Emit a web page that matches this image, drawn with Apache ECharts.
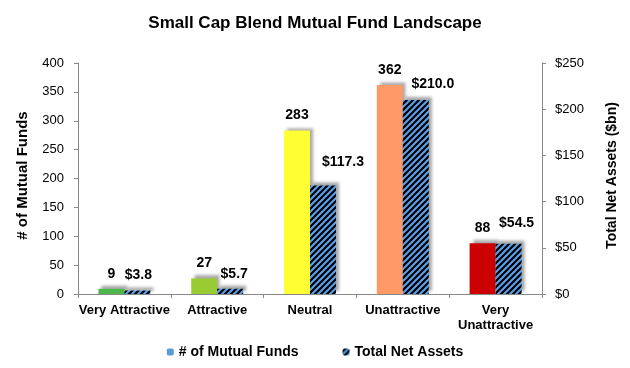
<!DOCTYPE html>
<html><head><meta charset="utf-8">
<script src="https://cdn.jsdelivr.net/npm/echarts@6/dist/echarts.min.js"></script>
<style>html,body{margin:0;padding:0;background:#fff}#c{width:630px;height:368px}</style>
</head><body><div id="c"></div>
<script>
var categories = ['Very Attractive', 'Attractive', 'Neutral', 'Unattractive', 'Very\nUnattractive'];
var fundCounts = [9, 27, 283, 362, 88];
var netAssets = [3.8, 5.7, 117.3, 210.0, 54.5];
var leftTicks = [0, 50, 100, 150, 200, 250, 300, 350, 400];
var rightTicks = [0, 50, 100, 150, 200, 250];
var barColors = ['#4cb84c', '#99cc33', '#ffff33', '#ff9966', '#cc0000'];
// label nudges (style only) for the asset labels, as placed in the original
var assetLabelNudge = [[1, 0], [4, 0], [20, -8], [17, -1], [8, -6]];

function makePattern() {
  var s = 6;
  var cv = document.createElement('canvas');
  cv.width = s; cv.height = s;
  var g = cv.getContext('2d');
  g.fillStyle = '#000';
  g.fillRect(0, 0, s, s);
  g.strokeStyle = '#5ba3f0';
  g.lineWidth = 2;
  g.beginPath();
  g.moveTo(-1, s + 1); g.lineTo(s + 1, -1);
  g.moveTo(-1, 1); g.lineTo(1, -1);
  g.moveTo(s - 1, s + 1); g.lineTo(s + 1, s - 1);
  g.stroke();
  return cv;
}
var pat = { image: makePattern(), repeat: 'repeat' };
var font = 'Liberation Sans, Arial, sans-serif';
var shadow = { shadowColor: 'rgba(0,0,0,0.35)', shadowBlur: 3, shadowOffsetX: 3, shadowOffsetY: -3 };

var chart = echarts.init(document.getElementById('c'), null, { renderer: 'canvas' });
chart.setOption({
  animation: false,
  textStyle: { fontFamily: font },
  title: {
    text: 'Small Cap Blend Mutual Fund Landscape',
    left: 'center', top: 10,
    textStyle: { fontFamily: font, fontSize: 17, fontWeight: 'bold', color: '#000' }
  },
  legend: {
    bottom: 4, left: 'center', itemGap: 44, itemWidth: 7, itemHeight: 7,
    textStyle: { fontFamily: font, fontSize: 14, fontWeight: 'bold', color: '#000' },
    data: [
      { name: '# of Mutual Funds', itemStyle: { color: '#5b9bd5' } },
      { name: 'Total Net Assets', itemStyle: { color: pat } }
    ]
  },
  grid: { left: 78, right: 88, top: 63, bottom: 74 },
  xAxis: {
    type: 'category', data: categories,
    axisLine: { lineStyle: { color: '#888' } },
    axisTick: { show: true, length: 4, lineStyle: { color: '#888' } },
    axisLabel: { color: '#000', fontFamily: font, fontSize: 13, fontWeight: 'bold', margin: 9, interval: 0, lineHeight: 15 }
  },
  yAxis: [
    {
      type: 'value', min: 0, max: 400, interval: 50,
      name: '# of Mutual Funds', nameLocation: 'middle', nameGap: 48,
      nameTextStyle: { fontFamily: font, fontSize: 15, fontWeight: 'bold', color: '#000', padding: [0, 0, 0, 6] },
      axisLine: { show: true, lineStyle: { color: '#888' } },
      axisTick: { show: true, length: 4, lineStyle: { color: '#888' } },
      splitLine: { show: false },
      axisLabel: { color: '#000', fontFamily: font, fontSize: 13, margin: 14 }
    },
    {
      type: 'value', min: 0, max: 250, interval: 50,
      name: 'Total Net Assets ($bn)', nameLocation: 'middle', nameGap: 63, nameRotate: 90,
      nameTextStyle: { fontFamily: font, fontSize: 14, fontWeight: 'bold', color: '#000', padding: [0, 0, 0, 6] },
      axisLine: { show: true, lineStyle: { color: '#888' } },
      axisTick: { show: true, length: 4, lineStyle: { color: '#888' } },
      splitLine: { show: false },
      axisLabel: { color: '#000', fontFamily: font, fontSize: 13, margin: 13, formatter: '${value}' }
    }
  ],
  series: [
    {
      name: '# of Mutual Funds', type: 'bar', yAxisIndex: 0, barWidth: 26, barGap: '0%',
      data: fundCounts.map(function (v, i) { return { value: v, itemStyle: Object.assign({ color: barColors[i] }, shadow) }; }),
      label: { show: true, position: 'top', distance: 8, color: '#000', fontFamily: font, fontSize: 14, fontWeight: 'bold' }
    },
    {
      name: 'Total Net Assets', type: 'bar', yAxisIndex: 1, barWidth: 26,
      itemStyle: Object.assign({ color: pat }, shadow),
      data: netAssets.map(function (v, i) { return { value: v, label: { offset: assetLabelNudge[i] } }; }),
      label: { show: true, position: 'top', distance: 8, color: '#000', fontFamily: font, fontSize: 14, fontWeight: 'bold',
        formatter: function (p) { return '$' + p.value.toFixed(1); } }
    }
  ]
});
</script></body></html>
